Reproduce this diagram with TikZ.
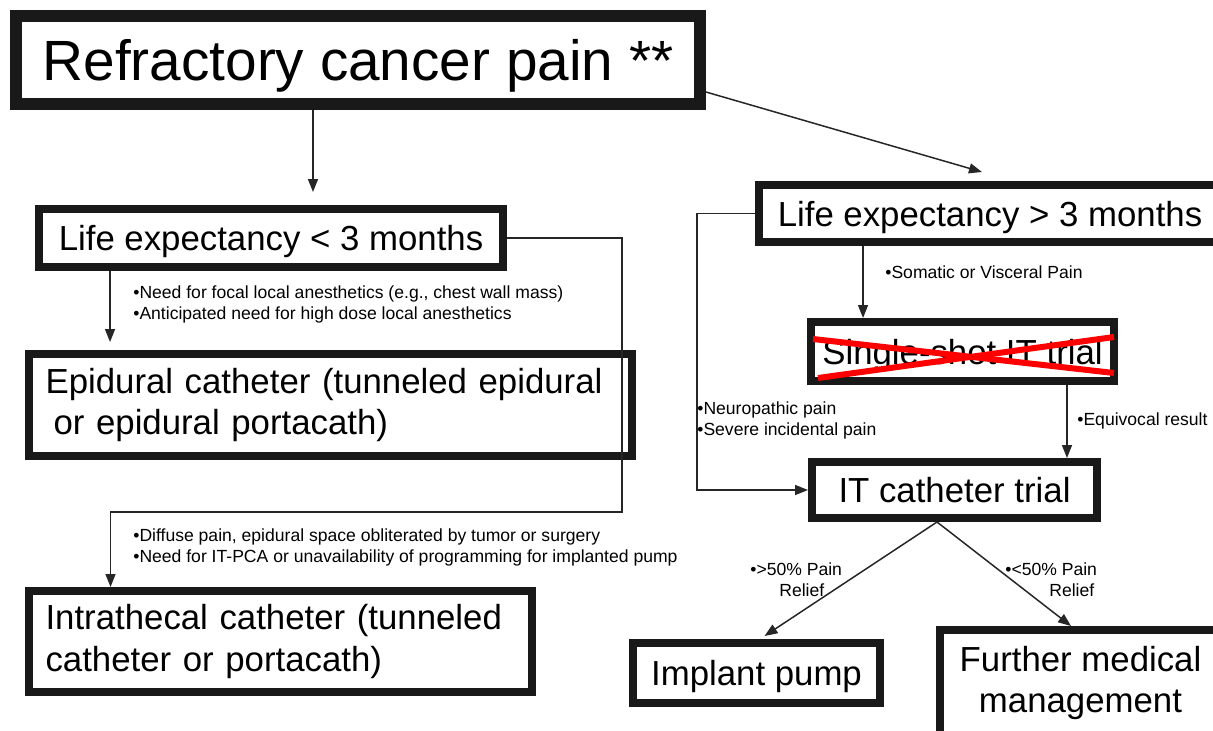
\documentclass[tikz,border=0pt]{standalone}
\usepackage{fontspec}
\setmainfont{Liberation Sans}
\usetikzlibrary{arrows.meta,shapes}
\tikzstyle{bigbox}=[draw=black!90,line width=0.24cm,fill=white,inner sep=0pt,text depth=0pt,font=\fontsize{32.3}{38}\selectfont]
\tikzstyle{box}=[draw=black!90,line width=0.16cm,fill=white,inner sep=0pt,font=\fontsize{19.8}{23.6}\selectfont]
\tikzstyle{flat}=[text depth=0pt]
\tikzstyle{note}=[inner sep=0pt,align=left,font=\fontsize{10}{11.9}\selectfont]
\tikzstyle{edge}=[draw=black!85,line width=0.85pt,-{Triangle[length=0.26cm,width=0.2cm]}]
\tikzstyle{cross}=[draw=red,line width=0.12cm]

\begin{document}
\begin{tikzpicture}[x=0.02cm,y=-0.02cm]
        \clip (0,0) rectangle (1213,730);
        % boxes
        \node[bigbox,minimum width=13.68cm,minimum height=1.76cm] (pain) at (358,60) {Refractory cancer pain **};
        \node[box,flat,minimum width=9.28cm,minimum height=1.16cm] (lifeshort) at (271,238) {Life expectancy < 3 months};
        \node[box,minimum width=12.06cm,minimum height=2.04cm,text width=11.4cm,align=left] (epidural) at (330.5,405) {Epidural catheter (tunneled epidural\\\hspace*{0.16cm}or epidural portacath)};
        \node[box,minimum width=10.06cm,minimum height=2.02cm,text width=9.4cm,align=left] (intrathecal) at (280.5,641.5) {Intrathecal catheter (tunneled\\catheter or portacath)};
        \node[box,flat,minimum width=9.24cm,minimum height=1.14cm] (lifelong) at (990,213.5) {Life expectancy > 3 months};
        \node[box,flat,minimum width=6.06cm,minimum height=1.18cm] (singleshot) at (962.5,351.5) {Single-shot IT trial};
        \node[box,flat,minimum width=5.7cm,minimum height=1.12cm] (itcath) at (954.5,490) {IT catheter trial};
        \node[box,flat,minimum width=4.94cm,minimum height=1.2cm] (pump) at (756.5,673) {Implant pump};
        \node[box,minimum width=5.62cm,minimum height=2.12cm,align=center] (further) at (1080.5,683) {Further medical\\management};
        \draw[cross] (813,339) -- (1114,373);
        \draw[cross] (818,378) -- (1114,337);
        % notes
        \node[note,anchor=west] (focal) at (133,304.5) {•Need for focal local anesthetics (e.g., chest wall mass)\\•Anticipated need for high dose local anesthetics};
        \node[note,anchor=west] (diffuse) at (133,547.5) {•Diffuse pain, epidural space obliterated by tumor or surgery\\•Need for IT-PCA or unavailability of programming for implanted pump};
        \node[note,anchor=west] (somatic) at (885,272) {•Somatic or Visceral Pain};
        \node[note,anchor=west] (neuro) at (697,420.5) {•Neuropathic pain\\•Severe incidental pain};
        \node[note,anchor=west] (equivocal) at (1077,421) {•Equivocal result};
        \node[note,anchor=west] (relief) at (750,580) {•>50\% Pain\\\hspace*{0.58cm}Relief};
        \node[note,anchor=west] (norelief) at (1005,580) {•<50\% Pain\\\hspace*{0.88cm}Relief};
        % connectors
        \coordinate (railA) at (622,512);
        \coordinate (railB) at (697,0);
        \draw[edge] ([xshift=0.84cm]lifeshort.north |- pain.south) -- ([xshift=0.84cm,yshift=0.26cm]lifeshort.north);
        \draw[edge] ([yshift=-0.64cm]pain.east) -- ([xshift=-0.16cm,yshift=0.18cm]lifelong.north);
        \draw[edge] ([xshift=-3.22cm]lifeshort.south) -- ([xshift=-3.22cm,yshift=0.16cm]lifeshort.south |- epidural.north);
        \draw[edge] (lifeshort.east) -| (railA) -| ([xshift=-3.4cm]intrathecal.north);
        \draw[edge] (lifelong.west) -| (railB |- itcath.west) -- (itcath.west);
        \draw[edge] ([xshift=-1.99cm]singleshot.north |- lifelong.south) -- ([xshift=-1.99cm]singleshot.north);
        \draw[edge] ([xshift=2.25cm]itcath.north |- singleshot.south) -- ([xshift=2.25cm]itcath.north);
        \draw[edge] ([xshift=-0.35cm]itcath.south) -- ([xshift=0.16cm,yshift=0.06cm]pump.north);
        \draw[edge] ([xshift=-0.35cm]itcath.south) -- ([xshift=-0.19cm]further.north);
      \end{tikzpicture}
\end{document}
